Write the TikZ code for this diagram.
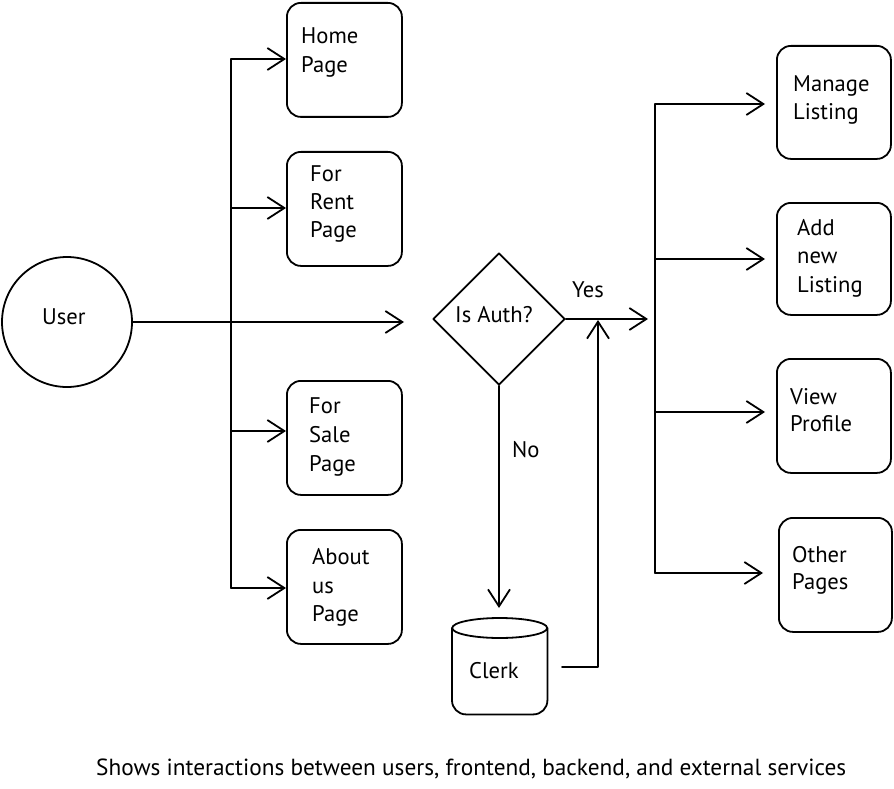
\documentclass[tikz,border=0pt]{standalone}
\usepackage{fontspec}
\setmainfont{PT Sans}
\usetikzlibrary{arrows.meta,shapes.geometric,calc}
\tikzset{
  ln/.style={line width=1.8pt, line cap=round, line join=round},
  arr/.style={ln, -{Straight Barb[length=17pt,width=22pt,line width=1.8pt]}},
  box/.style={draw, ln, rounded corners=14pt, minimum width=115pt, minimum height=114pt, inner sep=0pt, anchor=north west},
  lbl/.style={anchor=base west, inner sep=0pt, font=\fontsize{22.6}{27}\selectfont},
  captext/.style={anchor=base west, inner sep=0pt, font=\fontsize{23.3}{28}\selectfont},
}
\begin{document}
\begin{tikzpicture}[x=1pt,y=-1pt]
\useasboundingbox (0,0) rectangle (894,789);

% user
\node[draw, ln, circle, minimum size=130pt, inner sep=0pt] (user) at (67,322) {};
\node[lbl] (usert) at (42,324) {User};

% left boxes
\node[box] (home) at (286,2) {};
\node[box] (rent) at (286,151) {};
\node[box] (sale) at (286,380) {};
\node[box] (about) at (286,529) {};

\node[lbl] (home1) at (301,44) {Home};
\node[lbl] (home2) at (301,73) {Page};
\node[lbl] (rent1) at (310,181) {For};
\node[lbl] (rent2) at (310,209) {Rent};
\node[lbl] (rent3) at (310,237) {Page};
\node[lbl] (sale1) at (309,413) {For};
\node[lbl] (sale2) at (309,442) {Sale};
\node[lbl] (sale3) at (309,471) {Page};
\node[lbl] (about1) at (312,564) {About};
\node[lbl] (about2) at (312,593) {us};
\node[lbl] (about3) at (312,621) {Page};

% left trunk
\coordinate (l1) at (231,59);
\coordinate (l2) at (231,208);
\coordinate (l3) at (231,431);
\coordinate (l4) at (231,588);
\draw[ln] (l1) -- (l4);
\draw[arr] (l1) -- (l1 -| home.west);
\draw[arr] (l2) -- (l2 -| rent.west);
\draw[arr] (l3) -- (l3 -| sale.west);
\draw[arr] (l4) -- (l4 -| about.west);

% user main arrow
\coordinate (uend) at (404,322);
\draw[arr] (user.east) -- (uend);

% decision
\node[draw, ln, diamond, minimum width=132pt, minimum height=132pt, inner sep=0pt] (auth) at (499,319) {};
\node[lbl] (autht) at (455,322) {Is Auth?};
\node[lbl] (yes) at (572,297) {Yes};
\node[lbl] (no) at (512,457) {No};

\coordinate (yend) at (648,319);
\draw[arr] (auth.east) -- (yend);
\coordinate (nend) at (499,608);
\draw[arr] (auth.south) -- (nend);

% clerk cylinder
\node[minimum width=95pt, minimum height=96pt, inner sep=0pt, anchor=north west] (clerk) at (452,618) {};
\draw[ln] ($(clerk.north west)+(0,10)$) -- ($(clerk.south west)+(0,-14)$)
   arc[start angle=180, end angle=90, x radius=14pt, y radius=-14pt]
   -- ($(clerk.south east)+(-14,0)$)
   arc[start angle=90, end angle=0, x radius=14pt, y radius=-14pt]
   -- ($(clerk.north east)+(0,10)$);
\draw[ln] ($(clerk.north)+(0,10)$) ellipse[x radius=47.5pt, y radius=10pt];
\node[lbl] (clerkt) at (469,678) {Clerk};

\coordinate (c1) at (562,667);
\coordinate (c2) at (598,667);
\coordinate (c3) at (598,320);
\draw[arr] (c1) -- (c2) -- (c3);

% right boxes
\node[box, minimum width=114pt, minimum height=113pt] (manage) at (776,45) {};
\node[box, minimum width=114pt, minimum height=112pt] (addnew) at (776,202) {};
\node[box, minimum width=114pt, minimum height=114pt] (view) at (776,358) {};
\node[box, minimum width=113pt, minimum height=114pt] (other) at (778,517) {};

\node[lbl] (manage1) at (793,92) {Manage};
\node[lbl] (manage2) at (793,120) {Listing};
\node[lbl] (add1) at (797,235) {Add};
\node[lbl] (add2) at (797,263) {new};
\node[lbl] (add3) at (797,292) {Listing};
\node[lbl] (view1) at (790,404) {View};
\node[lbl] (view2) at (790,431) {Profile};
\node[lbl] (other1) at (792,562) {Other};
\node[lbl] (other2) at (792,589) {Pages};

% right trunk
\coordinate (r1) at (655,104);
\coordinate (r2) at (655,259);
\coordinate (r3) at (655,412);
\coordinate (r4) at (655,573);
\draw[ln] (r1) -- (r4);
\draw[arr] (r1) -- ($(r1 -| manage.west)+(-11,0)$);
\draw[arr] (r2) -- ($(r2 -| addnew.west)+(-11,0)$);
\draw[arr] (r3) -- ($(r3 -| view.west)+(-11,0)$);
\draw[arr] (r4) -- ($(r4 -| other.west)+(-15,0)$);

% caption
\node[captext] (caption) at (96,775) {Shows interactions between users, frontend, backend, and external services};
\end{tikzpicture}
\end{document}
